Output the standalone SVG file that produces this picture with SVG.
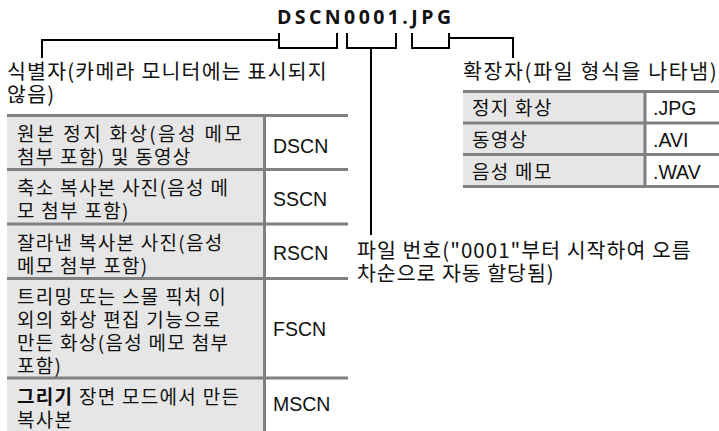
<svg xmlns="http://www.w3.org/2000/svg" width="719" height="431" viewBox="0 0 719 431">
<style>
.kr{font-family:"Noto Sans CJK KR","Noto Sans",sans-serif;fill:#111;letter-spacing:1.3px}
.h{font-size:20.5px}
.c{font-size:19px}
.code{font-family:"Liberation Sans",Arial,sans-serif;font-size:19.5px;fill:#111}
.grid{stroke:#808080;stroke-width:3;fill:none}
.cell{fill:#e6e6e6}
.conn{stroke:#000;stroke-width:2;fill:none}
</style>
<rect width="719" height="431" fill="#fff"/>
<g id="title">
<text x="277" y="24" textLength="174" lengthAdjust="spacing" style="font-family:'Open Sans','DejaVu Sans',sans-serif;font-weight:bold;font-size:19.5px;fill:#111">DSCN0001.JPG</text>
</g>
<g id="connectors">
<path class="conn" d="M279,33V48H337V33"/>
<path class="conn" d="M42,58V40H279"/>
<path class="conn" d="M347,33V48H396V33"/>
<path class="conn" d="M371,48V235"/>
<path class="conn" d="M412,33V48H449V33"/>
<path class="conn" d="M449,38H513V58"/>
</g>
<g id="identifier-label">
<text class="kr h" x="7" y="79" textLength="321" lengthAdjust="spacing">식별자(카메라 모니터에는 표시되지</text>
<text class="kr h" x="7" y="102">않음)</text>
</g>
<g id="extension-label">
<text class="kr h" x="463" y="79" textLength="255" lengthAdjust="spacing">확장자(파일 형식을 나타냄)</text>
</g>
<g id="number-label">
<text class="kr h" x="357" y="258" textLength="335" lengthAdjust="spacing">파일 번호("0001"부터 시작하여 오름</text>
<text class="kr h" x="357" y="281" textLength="198" lengthAdjust="spacing">차순으로 자동 할당됨)</text>
</g>
<g id="identifier-table">
<rect class="cell" x="7" y="115" width="257" height="316"/>
<path class="grid" d="M7,115.5H348M7,169.5H348M7,224H348M7,278.5H348M7,378H348M264.5,115V431"/>
<text class="kr c" x="17" y="141" textLength="226" lengthAdjust="spacing">원본 정지 화상(음성 메모</text>
<text class="kr c" x="17" y="164">첨부 포함) 및 동영상</text>
<text class="code" x="273" y="153">DSCN</text>
<text class="kr c" x="17" y="195">축소 복사본 사진(음성 메</text>
<text class="kr c" x="17" y="218">모 첨부 포함)</text>
<text class="code" x="273" y="206">SSCN</text>
<text class="kr c" x="17" y="249.5">잘라낸 복사본 사진(음성</text>
<text class="kr c" x="17" y="272.5">메모 첨부 포함)</text>
<text class="code" x="273" y="260">RSCN</text>
<text class="kr c" x="17" y="304">트리밍 또는 스몰 픽처 이</text>
<text class="kr c" x="17" y="327">외의 화상 편집 기능으로</text>
<text class="kr c" x="17" y="350">만든 화상(음성 메모 첨부</text>
<text class="kr c" x="17" y="373">포함)</text>
<text class="code" x="273" y="336">FSCN</text>
<text class="kr c" x="17" y="404"><tspan font-weight="bold">그리기</tspan> 장면 모드에서 만든</text>
<text class="kr c" x="17" y="427">복사본</text>
<text class="code" x="273" y="411">MSCN</text>
</g>
<g id="extension-table">
<rect class="cell" x="463" y="91" width="182" height="96"/>
<path class="grid" d="M463,91.5H719M463,123H719M463,154.5H719M463,186.5H719M645,91V187"/>
<text class="kr c" x="472" y="115">정지 화상</text>
<text class="code" x="653" y="115">.JPG</text>
<text class="kr c" x="472" y="147">동영상</text>
<text class="code" x="653" y="147">.AVI</text>
<text class="kr c" x="472" y="179">음성 메모</text>
<text class="code" x="653" y="179">.WAV</text>
</g>
</svg>
